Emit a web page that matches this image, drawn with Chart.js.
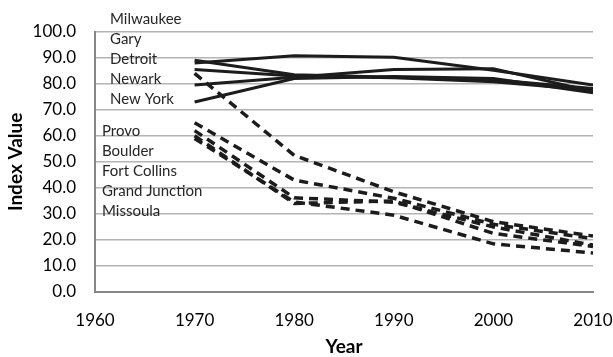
<!DOCTYPE html>
<html>
<head>
<meta charset="utf-8">
<script src="https://cdn.jsdelivr.net/npm/chart.js@4.4.0/dist/chart.umd.min.js"></script>
<style>
  html, body { margin: 0; padding: 0; background: #fff; }
  #wrap { width: 613px; height: 357px; }
</style>
</head>
<body>
<div id="wrap"><canvas id="grafico"></canvas></div>
<script>
// anos
var years = [1970, 1980, 1990, 2000, 2010];

// cidades industriais (linhas cheias)
var milwaukee = [88.0, 90.8, 90.2, 85.2, 79.5];
var gary      = [89.0, 83.5, 82.5, 81.5, 78.2];
var detroit   = [85.5, 83.0, 82.3, 80.8, 77.5];
var newark    = [79.5, 82.5, 85.5, 85.8, 77.0];
var newYork   = [73.0, 82.0, 82.8, 82.0, 76.5];

// cidades universitarias (tracejadas)
var provo         = [84.0, 52.5, 38.5, 27.0, 21.5];
var boulder       = [65.0, 43.0, 36.0, 26.0, 20.5];
var fortCollins   = [62.0, 36.2, 34.5, 25.0, 18.0];
var grandJunction = [60.0, 34.0, 35.0, 22.5, 17.5];
var missoula      = [59.0, 34.6, 29.5, 18.5, 15.0];

var solidNames  = ['Milwaukee', 'Gary', 'Detroit', 'Newark', 'New York'];
var dashedNames = ['Provo', 'Boulder', 'Fort Collins', 'Grand Junction', 'Missoula'];

var fonte = 'Lato, "Open Sans", sans-serif';

function pontos(valores) {
    return years.map(function (ano, i) { return { x: ano, y: valores[i] }; });
}

var datasets = [];
[milwaukee, gary, detroit, newark, newYork].forEach(function (v, i) {
    datasets.push({
        label: solidNames[i],
        data: pontos(v),
        borderColor: '#1c1c1c',
        borderWidth: 3,
        pointRadius: 0,
        fill: false,
        tension: 0
    });
});
[provo, boulder, fortCollins, grandJunction, missoula].forEach(function (v, i) {
    datasets.push({
        label: dashedNames[i],
        data: pontos(v),
        borderColor: '#1c1c1c',
        borderWidth: 3.5,
        borderDash: [9, 6],
        pointRadius: 0,
        fill: false,
        tension: 0
    });
});

// nomes escritos a esquerda, dentro do grafico
var nomesPlugin = {
    id: 'nomes',
    afterDatasetsDraw: function (chart) {
        var ctx = chart.ctx;
        ctx.save();
        ctx.font = '15px ' + fonte;
        ctx.fillStyle = '#262626';
        ctx.textBaseline = 'middle';
        ctx.textAlign = 'left';
        solidNames.forEach(function (n, i) {
            ctx.fillText(n, 110, 19.5 + i * 20);
        });
        dashedNames.forEach(function (n, i) {
            ctx.fillText(n, 102, 131.5 + i * 20);
        });
        ctx.restore();
    }
};

var config = {
    type: 'line',
    data: { datasets: datasets },
    options: {
        responsive: true,
        maintainAspectRatio: false,
        animation: false,
        layout: { padding: { top: 31.7, right: 20, left: 0, bottom: 0 } },
        plugins: {
            legend: { display: false },
            tooltip: { enabled: false }
        },
        scales: {
            x: {
                type: 'linear',
                min: 1960,
                max: 2010,
                ticks: {
                    stepSize: 10,
                    padding: 18,
                    color: '#000',
                    font: { family: fonte, size: 17 },
                    callback: function (v) { return String(v); }
                },
                grid: { display: false, drawTicks: false },
                border: { display: true, color: '#878787', width: 2 },
                title: {
                    display: true,
                    text: 'Year',
                    color: '#000',
                    font: { family: fonte, size: 19, weight: 'bold', lineHeight: 1.1 },
                    padding: { top: 0, bottom: 0 }
                },
                afterFit: function (s) {
                    s.height = 65;
                    s.paddingLeft = 0;
                    s.paddingRight = 0;
                }
            },
            y: {
                min: 0,
                max: 100,
                ticks: {
                    stepSize: 10,
                    padding: 19,
                    color: '#000',
                    font: { family: fonte, size: 17 },
                    callback: function (v) { return v.toFixed(1); }
                },
                grid: { color: '#b4b4b4', lineWidth: 1.5, drawTicks: false },
                border: { display: true, color: '#878787', width: 2 },
                title: {
                    display: true,
                    text: 'Index Value',
                    color: '#000',
                    font: { family: fonte, size: 19, weight: 'bold', lineHeight: 1.1 },
                    padding: { top: 5, bottom: 0 }
                },
                afterFit: function (s) {
                    s.width = 95;
                    s.paddingTop = 0;
                    s.paddingBottom = 0;
                }
            }
        }
    },
    plugins: [nomesPlugin]
};

var grafico = new Chart(document.getElementById('grafico'), config);
</script>
</body>
</html>
